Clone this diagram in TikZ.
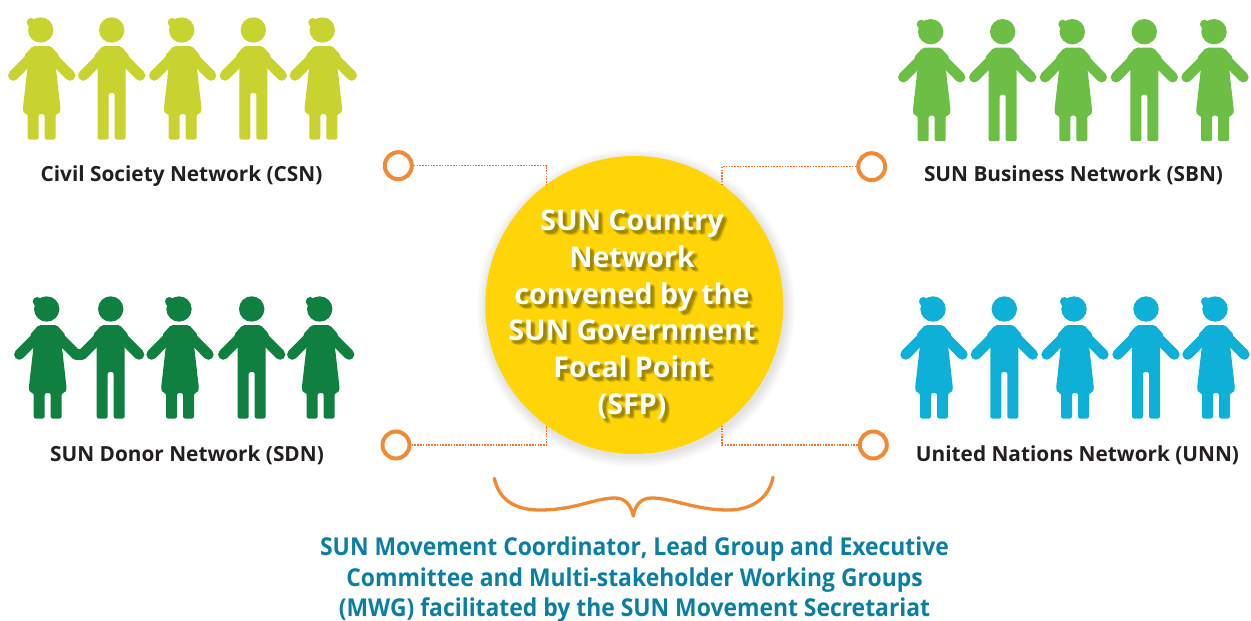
\documentclass[tikz,border=0pt]{standalone}
\usepackage{fontspec}
\setmainfont{Open Sans}
\newfontfamily\narrowfont[FakeStretch=0.93,BoldFeatures={FakeStretch=0.93}]{Open Sans}
\definecolor{limec}{HTML}{C9D32F}
\definecolor{grassc}{HTML}{6CBE45}
\definecolor{forestc}{HTML}{0F8040}
\definecolor{skyc}{HTML}{0FB0D8}
\definecolor{sunc}{HTML}{FFD507}
\definecolor{orangec}{HTML}{F08A34}
\definecolor{tealc}{HTML}{0A7FA3}
\definecolor{inkc}{HTML}{231F20}
\definecolor{shadec}{HTML}{8F7A00}
\newcommand{\armsfig}{%
  \path[pic actions,line width=10.5pt,line cap=round,fill=none] (-9,26) -- (-28.4,45.5);
  \path[pic actions,line width=10.5pt,line cap=round,fill=none] (9,26) -- (28.4,45.5);
}
\newcommand{\bigtext}{SUN Country\\Network\\convened by the\\SUN Government\\Focal Point\\(SFP)}
\tikzset{
  x=1pt,y=-1pt,
  woman/.pic={
    \armsfig
    \path[pic actions,draw=none] (-1,0) circle[radius=12.7] (-10.5,-7.5) circle[radius=4.5];
    \path[pic actions,draw=none,rounded corners=2pt] (-9,16) -- (9,16) -- (18,26) -- (14,36) -- (19,80) -- (17.5,84) -- (14,84) -- (14,109.5) -- (3,109.5) -- (3,84) -- (-3,84) -- (-3,109.5) -- (-14,109.5) -- (-14,84) -- (-17.5,84) -- (-19,80) -- (-14,36) -- (-18,26) -- cycle;
  },
  man/.pic={
    \armsfig
    \path[pic actions,draw=none] (0,0) circle[radius=12.7];
    \path[pic actions,draw=none,rounded corners=2pt] (-9,16) -- (9,16) -- (18,26) -- (14,36) -- (14,109.5) -- (3,109.5) -- (3,63) -- (-3,63) -- (-3,109.5) -- (-14,109.5) -- (-14,36) -- (-18,26) -- cycle;
  },
  fig/.style={fill=#1,draw=#1},
  netlabel/.style={anchor=base,font=\fontsize{20.8}{24}\selectfont\bfseries,text=inkc,inner sep=0},
  ring/.style={circle,draw=orangec,line width=4pt,fill=white,minimum size=27pt,inner sep=0},
  link/.style={draw=orangec!85!red,line width=1.4pt,dash pattern=on 1.6pt off 1.2pt},
  hubtext/.style={align=center,inner sep=0,font=\fontsize{28.6}{36.8}\selectfont\bfseries},
  notes/.style={anchor=base,inner sep=0,font=\narrowfont\fontsize{24.6}{28}\selectfont\bfseries,text=tealc},
}
\begin{document}
\begin{tikzpicture}
\useasboundingbox (0,0) rectangle (1251,621);
% people rows
\foreach \k/\px/\py/\cc in {woman/41.7/30/limec,man/111.7/30/limec,woman/182.7/30/limec,man/253.3/30/limec,woman/323.3/30/limec,
  woman/931.7/31.7/grassc,man/1002.7/31.7/grassc,woman/1073.3/31.7/grassc,man/1144.3/31.7/grassc,woman/1215/31.7/grassc,
  woman/47.7/309/forestc,man/110.7/309/forestc,woman/180/309/forestc,man/251.7/309/forestc,woman/320.7/309/forestc,
  woman/934/309/skyc,man/1004.3/309/skyc,woman/1075/309/skyc,man/1146/309/skyc,woman/1216/309/skyc}
  \pic[fig=\cc] at (\px,\py) {\k};
% joined hands
\draw[forestc,line width=10.5pt,line cap=round] (76,354.5) -- (82,354.5);
% labels
\node[netlabel] (csn) at (181.5,181.5) {Civil Society Network (CSN)};
\node[netlabel] (sbn) at (1073.5,181.5) {SUN Business Network (SBN)};
\node[netlabel] (sdn) at (187,461.5) {SUN Donor Network (SDN)};
\node[netlabel] (unn) at (1077.5,461.5) {United Nations Network (UNN)};
% hub
\foreach \r in {150,151.5,...,159}
  \fill[black,opacity=.014] (636,308) circle[radius=\r];
\node[circle,fill=sunc,minimum size=298pt,inner sep=0] (hub) at (634.3,305) {};
\foreach \dx/\dy [count=\i] in {2/2,3/3,4/4,3/4,4/3,2/4,4/2,5/5}
  \node[hubtext,text=shadec,opacity=.22] (shade\i) at (632+\dx,314.5+\dy) {\bigtext};
\node[hubtext,text=white] (hubtxt) at (632,314.5) {\bigtext};
% rings
\node[ring] (rtl) at (398.3,165.7) {};
\node[ring] (rtr) at (871.7,166.7) {};
\node[ring] (rbl) at (396,445) {};
\node[ring] (rbr) at (873.3,445) {};
\draw[link] (rtl.east) -| (hub.126);
\draw[link] (rtr.west) -| (hub.54);
\draw[link] (rbl.east) -| (hub.234);
\draw[link] (rbr.west) -| (hub.306);
% brace
\coordinate (bl) at (494.3,478.3);
\coordinate (br) at (773,477.3);
\coordinate (tip) at (633.3,516);
\draw[orangec,line width=3.3pt,line cap=round,line join=round] (bl) .. controls (499,500) and (515,510) .. (540,510) .. controls (575,510) and (595,498) .. (615,498) .. controls (625,498) and (631,505) .. (tip) .. controls (635,505) and (641,498) .. (652,498) .. controls (672,498) and (695,510) .. (728,510) .. controls (752,510) and (769,498) .. (br);
% note
\node[notes] (n1) at (634.5,555) {SUN Movement Coordinator, Lead Group and Executive};
\node[notes] (n2) at (634.5,586.5) {Committee and Multi-stakeholder Working Groups};
\node[notes] (n3) at (634.5,616) {(MWG) facilitated by the SUN Movement Secretariat};
\end{tikzpicture}
\end{document}
